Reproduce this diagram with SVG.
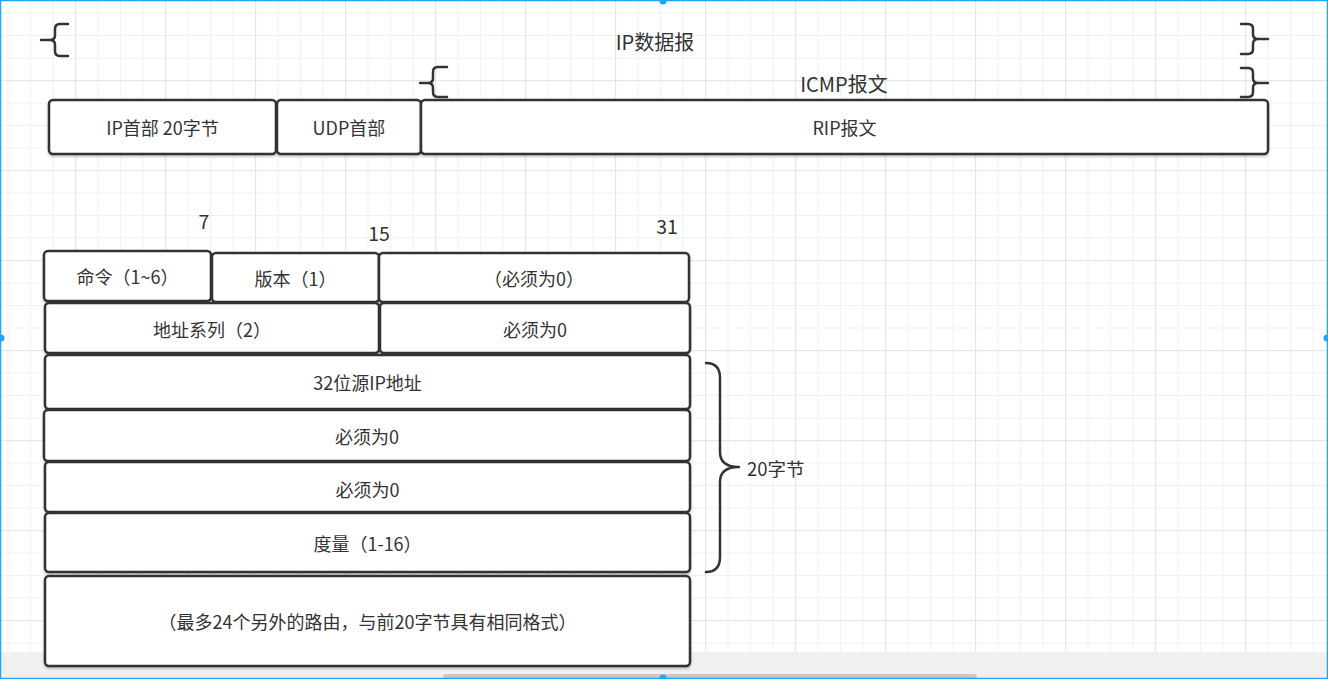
<svg xmlns="http://www.w3.org/2000/svg" width="1328" height="679" viewBox="0 0 1328 679">
<defs>
<pattern id="gMinor" patternUnits="userSpaceOnUse" x="7.5" y="12.5" width="22.5" height="22.5">
<rect x="0" y="0" width="1" height="22.5" fill="#f1f1f1"/>
<rect x="0" y="0" width="22.5" height="1" fill="#f1f1f1"/>
</pattern>
<pattern id="gMajor" patternUnits="userSpaceOnUse" x="75" y="80" width="90" height="90">
<rect x="0" y="0" width="1.2" height="90" fill="#e6e6e6"/>
<rect x="0" y="0" width="90" height="1.2" fill="#e6e6e6"/>
</pattern>
<filter id="sh" x="-5%" y="-5%" width="110%" height="120%">
<feDropShadow dx="0" dy="1.5" stdDeviation="1" flood-color="#000" flood-opacity="0.25"/>
</filter>
</defs>
<style>
.box{fill:#fff;stroke:#333;stroke-width:2.5;filter:url(#sh)}
.brace{fill:none;stroke:#333;stroke-width:2.5;stroke-linecap:round;stroke-linejoin:round}
text{font-family:"Noto Sans CJK SC","Noto Sans",sans-serif;font-size:18px;fill:#333;dominant-baseline:central}
.c{text-anchor:middle}
.big{font-size:20px}
.num{font-size:19.5px}
</style>
<rect x="0" y="0" width="1328" height="679" fill="#fff"/>
<rect x="0" y="0" width="1328" height="652" fill="url(#gMinor)"/>
<rect x="0" y="0" width="1328" height="652" fill="url(#gMajor)"/>
<rect x="0" y="652" width="1328" height="27" fill="#f0f0f0"/>
<rect x="443" y="674" width="534" height="6" rx="3" fill="#c8c8c8"/>

<g id="connectors">
<path class="brace" d="M41,40 H50 Q55,40 55,35 V29 Q55,24 60,24 H68 M50,40 Q55,40 55,45 V51 Q55,56 60,56 H68"/>
<path class="brace" d="M1268,39 H1258 Q1253,39 1253,34 V29 Q1253,24 1248,24 H1241 M1258,39 Q1253,39 1253,44 V49 Q1253,54 1248,54 H1241"/>
<path class="brace" d="M420,83 H428 Q433,83 433,78 V72 Q433,67 438,67 H447 M428,83 Q433,83 433,88 V92 Q433,97 438,97 H447"/>
<path class="brace" d="M1268,83 H1258 Q1253,83 1253,78 V73 Q1253,68 1248,68 H1241 M1258,83 Q1253,83 1253,88 V92 Q1253,97 1248,97 H1241"/>
<path class="brace" d="M706,363 Q720,363 720,378 V452 Q720,467 739,467 M706,572 Q720,572 720,557 V482 Q720,467 739,467"/>
</g>

<g id="label-ipdatagram"><text class="c big" x="655" y="41">IP数据报</text></g>
<g id="label-icmp"><text class="c big" x="844" y="83">ICMP报文</text></g>

<g id="ip-header"><rect class="box" x="49" y="100" width="227" height="54" rx="4"/><text class="c" x="162.5" y="127">IP首部 20字节</text></g>
<g id="udp-header"><rect class="box" x="277" y="100" width="144" height="54" rx="4"/><text class="c" x="349" y="127">UDP首部</text></g>
<g id="rip-msg"><rect class="box" x="421" y="100" width="847" height="54" rx="4"/><text class="c" x="844.5" y="127">RIP报文</text></g>

<g id="bit-labels">
<text class="c num" x="204" y="220">7</text>
<text class="c num" x="379" y="232">15</text>
<text class="c num" x="667" y="225">31</text>
</g>

<g id="cmd"><rect class="box" x="44" y="251" width="167" height="50" rx="4"/><text class="c" x="127.5" y="276">命令（1~6）</text></g>
<g id="version"><rect class="box" x="212" y="253" width="167" height="49" rx="4"/><text class="c" x="295.5" y="278">版本（1）</text></g>
<g id="zero1"><rect class="box" x="379" y="253" width="310" height="49" rx="4"/><text class="c" x="534" y="278">（必须为0）</text></g>
<g id="family"><rect class="box" x="45" y="303" width="334" height="50" rx="4"/><text class="c" x="212" y="329">地址系列（2）</text></g>
<g id="zero2"><rect class="box" x="380" y="303" width="310" height="50" rx="4"/><text class="c" x="535" y="329">必须为0</text></g>
<g id="srcip"><rect class="box" x="45" y="355" width="645" height="54" rx="4"/><text class="c" x="367.5" y="382">32位源IP地址</text></g>
<g id="zero3"><rect class="box" x="44" y="410" width="646" height="51" rx="4"/><text class="c" x="367" y="436">必须为0</text></g>
<g id="zero4"><rect class="box" x="45" y="462" width="645" height="50" rx="4"/><text class="c" x="367.5" y="489">必须为0</text></g>
<g id="metric"><rect class="box" x="45" y="513" width="645" height="59" rx="4"/><text class="c" x="367.5" y="543">度量（1-16）</text></g>
<g id="more"><rect class="box" x="45" y="576" width="645" height="90" rx="4"/><text class="c" x="367.5" y="621">（最多24个另外的路由，与前20字节具有相同格式）</text></g>

<g id="label-20bytes"><text x="747" y="468" style="font-size:18.5px">20字节</text></g>

<g id="frame">
<rect x="0.5" y="0.5" width="1327" height="678" fill="none" stroke="#1ea7f5" stroke-width="1.5"/>
<circle cx="663" cy="1" r="3.5" fill="#1ea7f5"/>
<circle cx="663" cy="678" r="3.5" fill="#1ea7f5"/>
<circle cx="1" cy="338" r="3.5" fill="#1ea7f5"/>
<circle cx="1327" cy="338" r="3.5" fill="#1ea7f5"/>
</g>
</svg>
